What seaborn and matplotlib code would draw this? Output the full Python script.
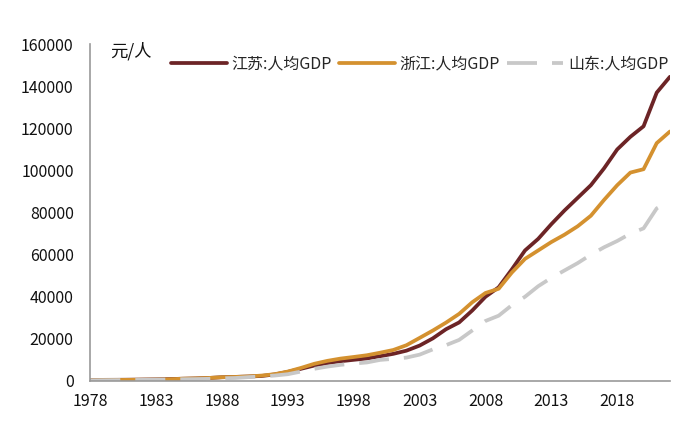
import pandas as pd
import numpy as np
import seaborn as sns
import matplotlib.pyplot as plt

years = list(range(1978, 2023))

# 元/人
jiangsu = [430, 514, 541, 594, 666, 745, 881, 1053, 1188, 1412,
           1767, 1925, 2109, 2356, 3106, 4321, 5785, 7319, 8471, 9371,
           10049, 10695, 11765, 12882, 14391, 16809, 20223, 24560, 27800, 33500,
           40000, 44500, 53000, 62000, 67500, 74500, 81000, 87000, 93000, 101000,
           110000, 116000, 121000, 137000, 144500]
zhejiang = [331, 408, 470, 527, 590, 641, 786, 1063, 1204, 1428,
            1776, 1904, 2138, 2551, 3212, 4469, 6201, 8149, 9552, 10624,
            11394, 12214, 13416, 14713, 16978, 20444, 23942, 27703, 31874, 37411,
            41800, 43800, 51500, 58000, 62000, 66000, 69500, 73500, 78500, 86000,
            93000, 99000, 100600, 113000, 118500]
shandong = [316, 364, 402, 446, 510, 586, 690, 812, 873, 1007,
            1254, 1403, 1815, 2134, 2574, 3212, 4473, 5758, 6834, 7656,
            8264, 8789, 10000, 10500, 11100, 12500, 15000, 17000, 19500, 24000,
            28500, 31000, 36000, 40000, 45000, 49000, 52500, 56000, 60000, 63500,
            66500, 70000, 72500, 82000, 85500]

labels = ['江苏:人均GDP', '浙江:人均GDP', '山东:人均GDP']
y_ticks = list(range(0, 160001, 20000))
x_ticks = list(range(1978, 2019, 5))

df = pd.DataFrame({
    'year': years * 3,
    'value': jiangsu + zhejiang + shandong,
    'series': [labels[0]] * len(years) + [labels[1]] * len(years) + [labels[2]] * len(years),
})

sns.set_style('white')
plt.rcParams['font.family'] = ['Noto Sans CJK SC', 'DejaVu Sans']

fig = plt.figure(figsize=(7, 4.29), dpi=100)
ax = fig.add_axes([0.129, 0.112, 0.828, 0.785])

palette = {labels[0]: '#6c2426', labels[1]: '#d4912f', labels[2]: '#c8c8c8'}
dashes = {labels[0]: '', labels[1]: '', labels[2]: (8, 4)}
sns.lineplot(data=df, x='year', y='value', hue='series', style='series',
             palette=palette, dashes=dashes, linewidth=2.7, ax=ax)

ax.set_xlim(1978, 2022)
ax.set_ylim(0, 160000)
ax.set_xticks(x_ticks)
ax.set_yticks(y_ticks)
ax.set_xticklabels([str(x) for x in x_ticks])
ax.set_yticklabels([str(y) for y in y_ticks])
ax.set_xlabel('')
ax.set_ylabel('')
ax.tick_params(axis='both', direction='in', length=4, width=1, color='#999999',
               labelsize=11.5, labelcolor='#111111')
ax.tick_params(axis='x', pad=9)
ax.tick_params(axis='y', pad=12)

for side in ['top', 'right']:
    ax.spines[side].set_visible(False)
for side in ['left', 'bottom']:
    ax.spines[side].set_color('#999999')
    ax.spines[side].set_linewidth(1.2)

ax.text(0.034, 0.98, '元/人', transform=ax.transAxes, fontsize=12.5,
        ha='left', va='center', color='#111111')

ax.legend(loc='center right', bbox_to_anchor=(1.022, 0.94), ncol=3, frameon=False,
          fontsize=11.5, handlelength=3.5, columnspacing=0.45, handletextpad=0.3)

fig.savefig('out.png', dpi=100)
